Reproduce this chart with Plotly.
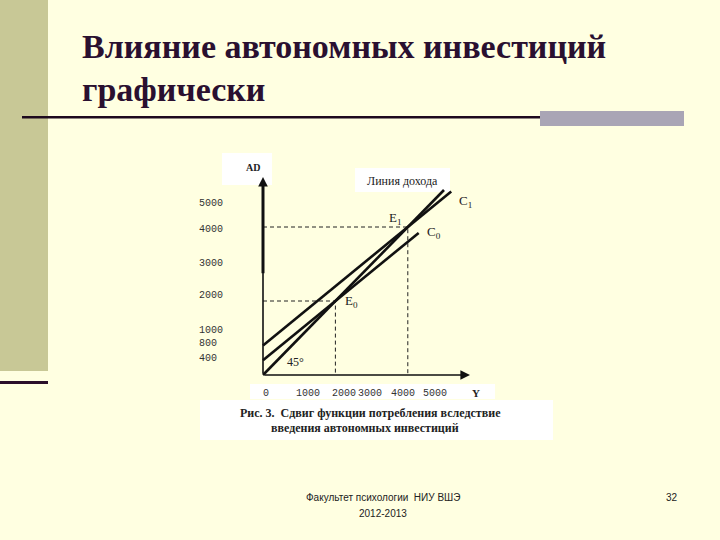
import plotly.graph_objects as go

# ---- data ----
income_Y = [0, 5000]          # 45-degree income line
income_AD = [0, 5000]
c0_Y = [0, 4300]              # consumption function C0
c0_AD = [400, 3840]
c1_Y = [0, 5200]              # consumption function C1 (after autonomous investment)
c1_AD = [800, 4960]
eq_Y = [2000, 4000]           # equilibria E0, E1
eq_AD = [2000, 4000]
eq_names = ["E<sub>0</sub>", "E<sub>1</sub>"]
y_ticks = [400, 800, 1000, 2000, 3000, 4000, 5000]
x_ticks = [0, 1000, 2000, 3000, 4000, 5000]

# label nudges (pixels) so the schematic labels sit as in the original slide
y_tick_shift = [2, 2, 8, 6, 1, -2, -13]
x_tick_shift = [3, 9, 9, -2, -5, -9]

BG = "#FFFFE1"
INK = "#111111"

# scale: pixels per unit and origin pixel
kx, ky = 0.0362, 0.0370
ox, oy = 263, 375
W, H = 720, 540
xr = [-ox / kx, (W - ox) / kx]
yr = [-(H - oy) / ky, oy / ky]

fig = go.Figure()

# dashed guide lines to equilibria
for yv, adv in zip(eq_Y, eq_AD):
    fig.add_trace(go.Scatter(x=[0, yv, yv], y=[adv, adv, 0], mode="lines",
                             line=dict(color="#222", width=1, dash="4px,3px"),
                             hoverinfo="skip", showlegend=False))

for xs, ys in [(income_Y, income_AD), (c0_Y, c0_AD), (c1_Y, c1_AD)]:
    fig.add_trace(go.Scatter(x=xs, y=ys, mode="lines",
                             line=dict(color=INK, width=2.6),
                             hoverinfo="skip", showlegend=False))

shapes = [
    # left decorative bar
    dict(type="rect", xref="paper", yref="paper", x0=0, x1=48 / W, y0=1 - 371 / H, y1=1,
         fillcolor="#C8C896", line_width=0, layer="below"),
    dict(type="rect", xref="paper", yref="paper", x0=0, x1=48 / W, y0=1 - 384 / H, y1=1 - 381 / H,
         fillcolor="#2A0F2A", line_width=0, layer="below"),
    # title rule and grey block
    dict(type="rect", xref="paper", yref="paper", x0=22 / W, x1=540 / W, y0=1 - 118.5 / H, y1=1 - 116 / H,
         fillcolor="#1E0A1E", line_width=0, layer="below"),
    dict(type="rect", xref="paper", yref="paper", x0=540 / W, x1=684 / W, y0=1 - 126 / H, y1=1 - 111 / H,
         fillcolor="#A9A5B5", line_width=0, layer="below"),
    # white patches of the pasted figure
    dict(type="rect", xref="paper", yref="paper", x0=200 / W, x1=553 / W, y0=1 - 440 / H, y1=1 - 400 / H,
         fillcolor="#FFFFFF", line_width=0, layer="below"),
    dict(type="rect", xref="paper", yref="paper", x0=250 / W, x1=495 / W, y0=1 - 399 / H, y1=1 - 384 / H,
         fillcolor="#FFFFFF", line_width=0, layer="below"),
    dict(type="rect", xref="paper", yref="paper", x0=222 / W, x1=272 / W, y0=1 - 185 / H, y1=1 - 153 / H,
         fillcolor="#FFFFFF", line_width=0, layer="below"),
    dict(type="rect", xref="paper", yref="paper", x0=355 / W, x1=450 / W, y0=1 - 192 / H, y1=1 - 168 / H,
         fillcolor="#FFFFFF", line_width=0, layer="below"),
    # thick upper part of the AD axis
    dict(type="line", xref="x", yref="y", x0=0, x1=0, y0=2750, y1=5200,
         line=dict(color=INK, width=3)),
]

ann = []
# axes as arrows
ann.append(dict(x=0, y=(oy - 177) / ky, ax=0, ay=0, xref="x", yref="y", axref="x", ayref="y",
                showarrow=True, arrowhead=2, arrowsize=1.2, arrowwidth=1.6, arrowcolor=INK, text=""))
ann.append(dict(x=(470 - ox) / kx, y=0, ax=0, ay=0, xref="x", yref="y", axref="x", ayref="y",
                showarrow=True, arrowhead=2, arrowsize=1.2, arrowwidth=1.6, arrowcolor=INK, text=""))

mono = dict(family="Liberation Mono, Courier New, monospace", size=10, color="#333")
serif = "Liberation Serif, Times New Roman, serif"


def label(x, y, text, font, xanchor="center", yanchor="middle", xref="paper", yref="paper", **kw):
    if xref == "paper":
        x = x / W
    if yref == "paper":
        y = 1 - y / H
    ann.append(dict(x=x, y=y, xref=xref, yref=yref, text=text, showarrow=False,
                    xanchor=xanchor, yanchor=yanchor, font=font, **kw))


for v, s in zip(y_ticks, y_tick_shift):
    label(197, v, str(v), mono, xanchor="left", yref="y", yshift=s)
for v, s in zip(x_ticks, x_tick_shift):
    label(v, 393, str(v), mono, xref="x", xshift=s)

label(476, 393, "<b>Y</b>", dict(family=serif, size=11, color="#222"))
label(253, 167, "<b>AD</b>", dict(family=serif, size=10, color="#222"))
label(402, 181, "Линия дохода", dict(family=serif, size=12, color="#222"))

sub = dict(family=serif, size=13, color="#222")
label(c1_Y[-1], c1_AD[-1], "C<sub>1</sub>", sub, xanchor="left", yanchor="top",
      xref="x", yref="y", xshift=6)
label(c0_Y[-1], c0_AD[-1], "C<sub>0</sub>", sub, xanchor="left", xref="x", yref="y", xshift=6)
label(eq_Y[0], eq_AD[0], eq_names[0], sub, xanchor="left", xref="x", yref="y", xshift=8)
label(eq_Y[1], eq_AD[1], eq_names[1], sub, xanchor="right", yanchor="bottom",
      xref="x", yref="y", xshift=-4, yshift=-2)
label(295, 362, "45°", dict(family=serif, size=12, color="#222"))

# caption
cap = dict(family=serif, size=12, color="#222")
label(371, 413, "<b>Рис. 3.  Сдвиг функции потребления вследствие</b>", cap)
label(365, 428, "<b>введения автономных инвестиций</b>", cap)

# title
tf = dict(family=serif, size=34, color="#2A1030")
label(80, 47, "<b>Влияние автономных инвестиций</b>", tf, xanchor="left")
label(80, 90, "<b>графически</b>", tf, xanchor="left")

# footer
foot = dict(family="Liberation Sans, Arial, sans-serif", size=10, color="#222")
label(383, 497, "Факультет психологии  НИУ ВШЭ", foot)
label(383, 513, "2012-2013", foot)
label(672, 497, "32", foot)

fig.update_layout(
    width=W, height=H, margin=dict(l=0, r=0, t=0, b=0),
    paper_bgcolor=BG, plot_bgcolor=BG,
    xaxis=dict(range=xr, visible=False, fixedrange=True),
    yaxis=dict(range=yr, visible=False, fixedrange=True),
    shapes=shapes, annotations=ann, showlegend=False,
)

fig.write_html("out.html", config={"displayModeBar": False},
               post_script="document.body.style.margin='0';document.body.style.background='%s';" % BG)
